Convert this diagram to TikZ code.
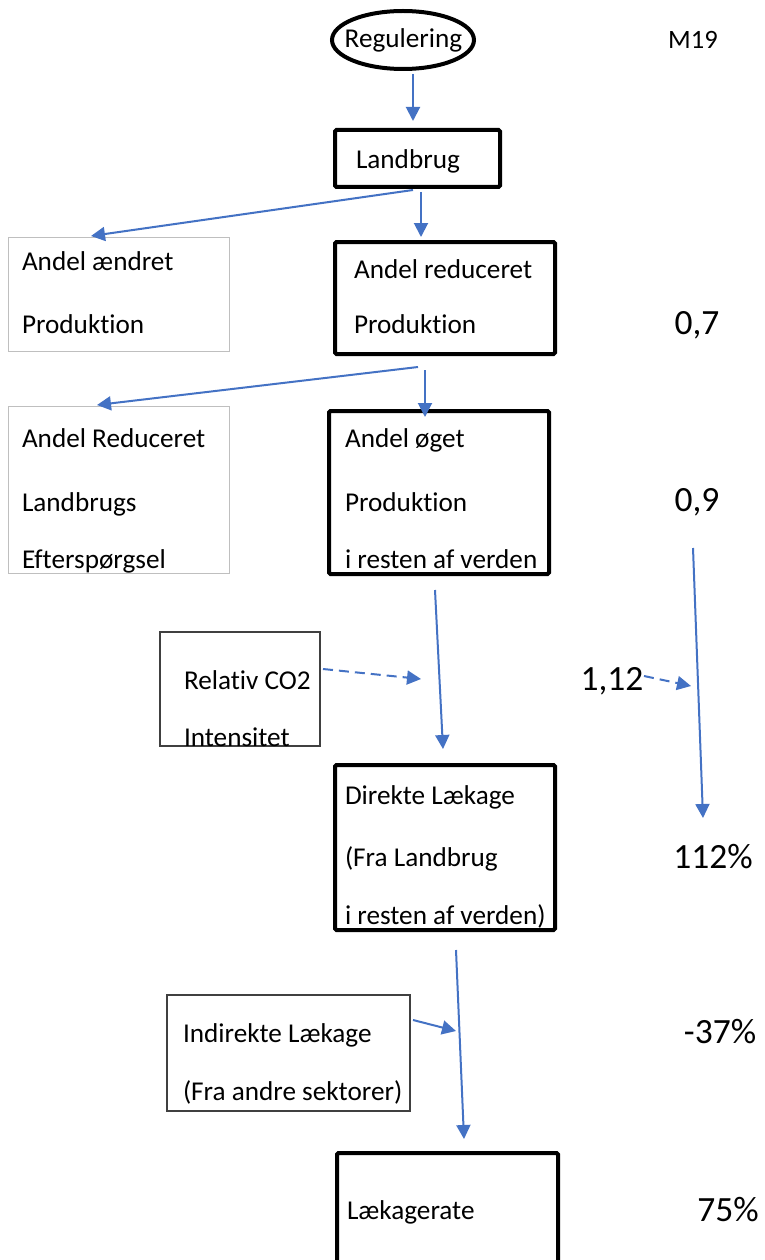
\documentclass[tikz,border=0pt]{standalone}
\usepackage{fontspec}
\setmainfont{Carlito}[Ligatures=NoCommon]
\usetikzlibrary{arrows.meta,shapes.geometric}
\definecolor{arrowblue}{HTML}{4472C4}
\begin{document}
\begin{tikzpicture}[x=1pt,y=-1pt,
  every node/.style={font=\fontsize{27.2}{31}\selectfont, inner sep=0pt, outer sep=0pt},
  thickbox/.style={draw=black, line width=4pt, rounded corners=1.5pt},
  lightbox/.style={draw=black!25, line width=1pt},
  darkbox/.style={draw=black!75, line width=1.3pt},
  lbl/.style={anchor=base west},
  num/.style={font=\fontsize{35.5}{40}\selectfont, anchor=base},
  flow/.style={draw=arrowblue, line width=2pt, -{Triangle[length=14pt,width=14pt]}},
  dflow/.style={flow, dash pattern=on 10pt off 6pt},
]
\useasboundingbox (0,0) rectangle (764,1260);

% boxes
\node[ellipse, draw=black, line width=4pt, minimum width=142pt, minimum height=58pt] (reg) at (403,40) {};
\node[anchor=base] (t-reg) at (403.5,48) {Regulering};
\node[font=\fontsize{26.5}{30}\selectfont] (m19) at (693,40) {M19};
\node[thickbox, minimum width=165pt, minimum height=57pt] (lb) at (417.5,158.5) {};
\node[lightbox, minimum width=221pt, minimum height=114pt] (aae) at (118.5,294) {};
\node[thickbox, minimum width=220pt, minimum height=112pt] (ared) at (445,298) {};
\node[lightbox, minimum width=221pt, minimum height=167pt] (aRed) at (118.5,489.5) {};
\node[thickbox, minimum width=220pt, minimum height=163pt] (aog) at (439,492.5) {};
\node[darkbox, minimum width=160pt, minimum height=114pt] (rel) at (240,689) {};
\node[thickbox, minimum width=220pt, minimum height=165pt] (dir) at (445,847.5) {};
\node[darkbox, minimum width=243pt, minimum height=116pt] (ind) at (288.5,1053) {};
\node[thickbox, minimum width=221pt, minimum height=122pt] (rate) at (447.5,1214) {};

% texts
\node[lbl] (t-lb) at (356,168) {Landbrug};
\node[lbl] (t-aae1) at (22,270) {Andel ændret};
\node[lbl] (t-aae2) at (22,333) {Produktion};
\node[lbl] (t-ared1) at (354,278) {Andel reduceret};
\node[lbl] (t-ared2) at (354,333) {Produktion};
\node[lbl] (t-aRed1) at (22,447) {Andel Reduceret};
\node[lbl] (t-aRed2) at (22,511) {Landbrugs};
\node[lbl] (t-aRed3) at (22,568) {Efterspørgsel};
\node[lbl] (t-aog1) at (345,447) {Andel øget};
\node[lbl] (t-aog2) at (345,511) {Produktion};
\node[lbl] (t-aog3) at (345,568) {i resten af verden};
\node[lbl] (t-rel1) at (184,689) {Relativ CO2};
\node[lbl] (t-rel2) at (184,746) {Intensitet};
\node[lbl] (t-dir1) at (345,804) {Direkte Lækage};
\node[lbl] (t-dir2) at (345,866) {(Fra Landbrug};
\node[lbl] (t-dir3) at (345,924) {i resten af verden)};
\node[lbl] (t-ind1) at (183,1042) {Indirekte Lækage};
\node[lbl] (t-ind2) at (183,1100) {(Fra andre sektorer)};
\node[lbl] (t-rate) at (347,1219) {Lækagerate};

% values
\node[num] (v1) at (697,334) {0,7};
\node[num] (v2) at (697,511) {0,9};
\node[num] (v3) at (612,690) {1,12};
\node[num] (v4) at (713,868) {112\%};
\node[num] (v5) at (720,1043) {-37\%};
\node[num] (v6) at (728,1221) {75\%};

% connector end points
\coordinate (c1s) at (413,74);   \coordinate (c1e) at (413,121);
\coordinate (c2s) at (413,190);  \coordinate (c2e) at (91,236);
\coordinate (c3s) at (421,192);  \coordinate (c3e) at (421,237);
\coordinate (c4s) at (418,367);  \coordinate (c4e) at (97,405);
\coordinate (c5s) at (425,370);  \coordinate (c5e) at (425,417);
\coordinate (c6s) at (435,590);  \coordinate (c6e) at (443,749);
\coordinate (c7s) at (693,548);  \coordinate (c7e) at (703,818);
\coordinate (c8s) at (323,669);  \coordinate (c8e) at (421,679);
\coordinate (c9s) at (644,676);  \coordinate (c9e) at (691,686);
\coordinate (c10s) at (456,950); \coordinate (c10e) at (464,1139);
\coordinate (c11s) at (413,1020); \coordinate (c11e) at (456,1031);

\draw[flow] (c1s) -- (c1e);
\draw[flow] (c2s) -- (c2e);
\draw[flow] (c3s) -- (c3e);
\draw[flow] (c4s) -- (c4e);
\draw[flow] (c5s) -- (c5e);
\draw[flow] (c6s) -- (c6e);
\draw[flow] (c7s) -- (c7e);
\draw[dflow] (c8s) -- (c8e);
\draw[dflow] (c9s) -- (c9e);
\draw[flow] (c10s) -- (c10e);
\draw[flow] (c11s) -- (c11e);
\end{tikzpicture}
\end{document}
